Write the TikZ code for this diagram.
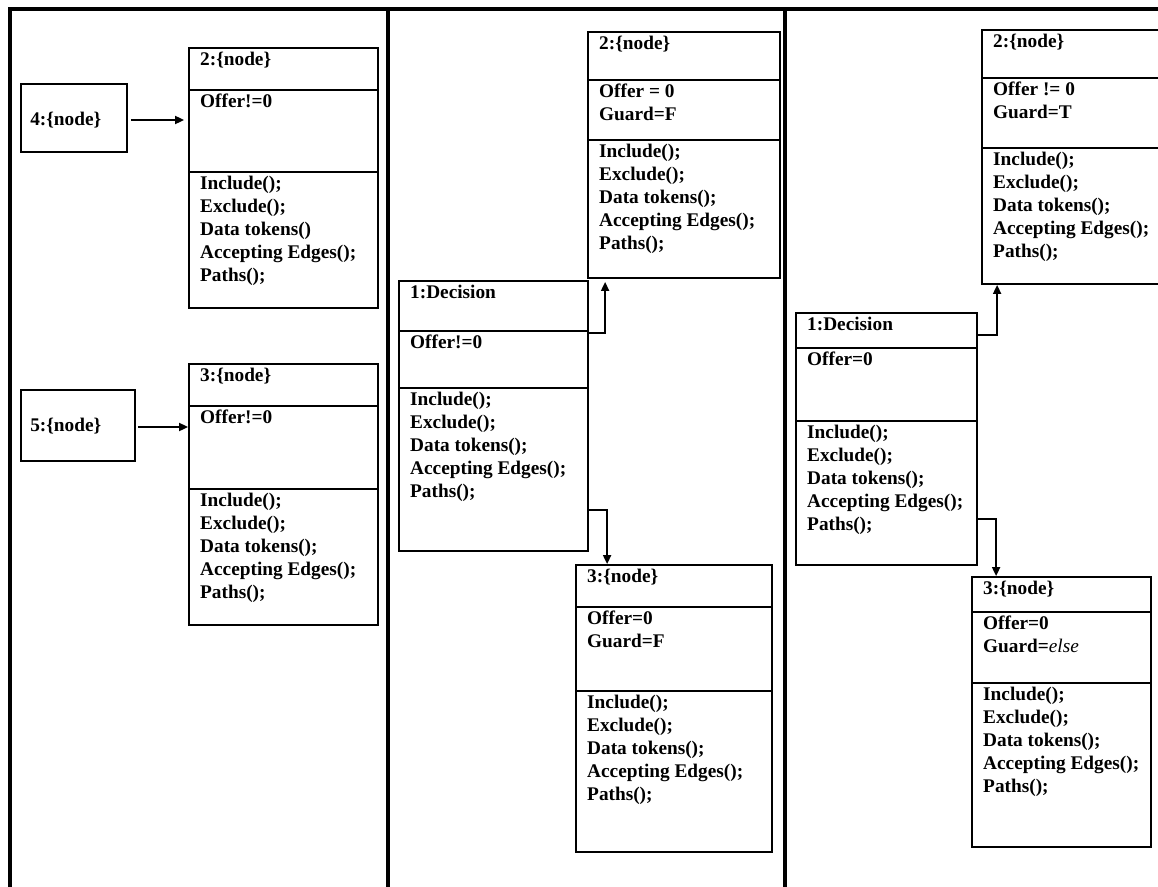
\documentclass[tikz,border=0pt]{standalone}
\usepackage{fontspec}
\setmainfont{Liberation Serif}
\usetikzlibrary{arrows.meta,fit}

\tikzset{
  umlbox/.style={draw, line width=1.8pt, inner sep=0pt},
  divider/.style={line width=1.8pt},
  frameline/.style={line width=3.2pt},
  txt/.style={anchor=north west, inner sep=0pt, align=left,
    font=\fontsize{19.3}{23}\selectfont\bfseries},
  conn/.style={line width=1.8pt, -{Triangle[length=9pt,width=8pt]}},
}

% class box: name, left, right, top, first divider, second divider, bottom
\newcommand\classbox[7]{%
  \node[umlbox, fit={(#2,#4) (#3,#7)}] (#1) {};
  \draw[divider] (#2,#5) -- (#3,#5);
  \draw[divider] (#2,#6) -- (#3,#6);
  \coordinate (#1-t) at (#2,#4);
  \coordinate (#1-a) at (#2,#5);
  \coordinate (#1-o) at (#2,#6);
}
% compartment texts: name, title, attributes, operations
\newcommand\classtext[4]{%
  \node[txt] (#1-title) at ([shift={(11pt,-1.6pt)}]#1-t) {\strut #2};
  \node[txt] (#1-attr) at ([shift={(11pt,-1.4pt)}]#1-a) {\strut #3};
  \node[txt] (#1-ops) at ([shift={(11pt,-1.4pt)}]#1-o) {\strut #4};
}
\newcommand\opslist{Include();\\Exclude();\\Data tokens();\\Accepting Edges();\\Paths();}

\begin{document}
\begin{tikzpicture}[x=1pt, y=-1pt]
\useasboundingbox (0,0) rectangle (1158,886);
\clip (0,0) rectangle (1158,886);

% panel frame
\draw[frameline] (10,900) -- (10,9) -- (1180,9);
\draw[frameline] (388,9) -- (388,900);
\draw[frameline] (785,9) -- (785,900);

% ---- first panel ----
\node[umlbox, fit={(21,84) (127,152)}] (l4) {};
\node[txt, anchor=west] (l4-title) at ([xshift=10pt,yshift=-2pt]l4.west) {4:\{node\}};
\node[umlbox, fit={(21,390) (135,461)}] (l5) {};
\node[txt, anchor=west] (l5-title) at ([xshift=10pt,yshift=-1pt]l5.west) {5:\{node\}};

\classbox{l2}{189}{378}{48}{90}{172}{308}
\classtext{l2}{2:\{node\}}{Offer!=0}{Include();\\Exclude();\\Data tokens()\\Accepting Edges();\\Paths();}
\classbox{l3}{189}{378}{364}{406}{489}{625}
\classtext{l3}{3:\{node\}}{Offer!=0}{\opslist}

\draw[conn, shorten <=3pt, shorten >=4pt] ([yshift=-2pt]l4.east) -- ([yshift=-2pt]l4.east -| l2.west);
\draw[conn, shorten <=2pt] ([yshift=-1.5pt]l5.east) -- ([yshift=-1.5pt]l5.east -| l3.west);

% ---- second panel ----
\classbox{m2}{588}{780}{32}{80}{140}{278}
\classtext{m2}{2:\{node\}}{Offer = 0\\Guard=F}{\opslist}
\classbox{md}{399}{588}{281}{331}{388}{551}
\classtext{md}{1:Decision}{Offer!=0}{\opslist}
\classbox{m3}{576}{772}{565}{607}{691}{852}
\classtext{m3}{3:\{node\}}{Offer=0\\Guard=F}{\opslist}

\draw[conn] ([yshift=-53pt]md.north east) -| ([xshift=18pt,yshift=-3pt]m2.south west);
\draw[conn] ([yshift=-230pt]md.north east) -| ([xshift=32pt]m3.north west);

% ---- third panel ----
\classbox{r2}{982}{1185}{30}{78}{148}{284}
\classtext{r2}{2:\{node\}}{Offer != 0\\Guard=T}{\opslist}
\classbox{rd}{796}{977}{313}{348}{421}{565}
\classtext{rd}{1:Decision}{Offer=0}{\opslist}
\classbox{r3}{972}{1151}{577}{612}{683}{847}
\classtext{r3}{3:\{node\}}{Offer=0\\Guard={\mdseries\itshape else}}{\opslist}

\draw[conn] ([yshift=-23pt]rd.north east) -| ([xshift=16pt]r2.south west);
\draw[conn] ([yshift=-207pt]rd.north east) -| ([xshift=25pt]r3.north west);
\end{tikzpicture}
\end{document}
